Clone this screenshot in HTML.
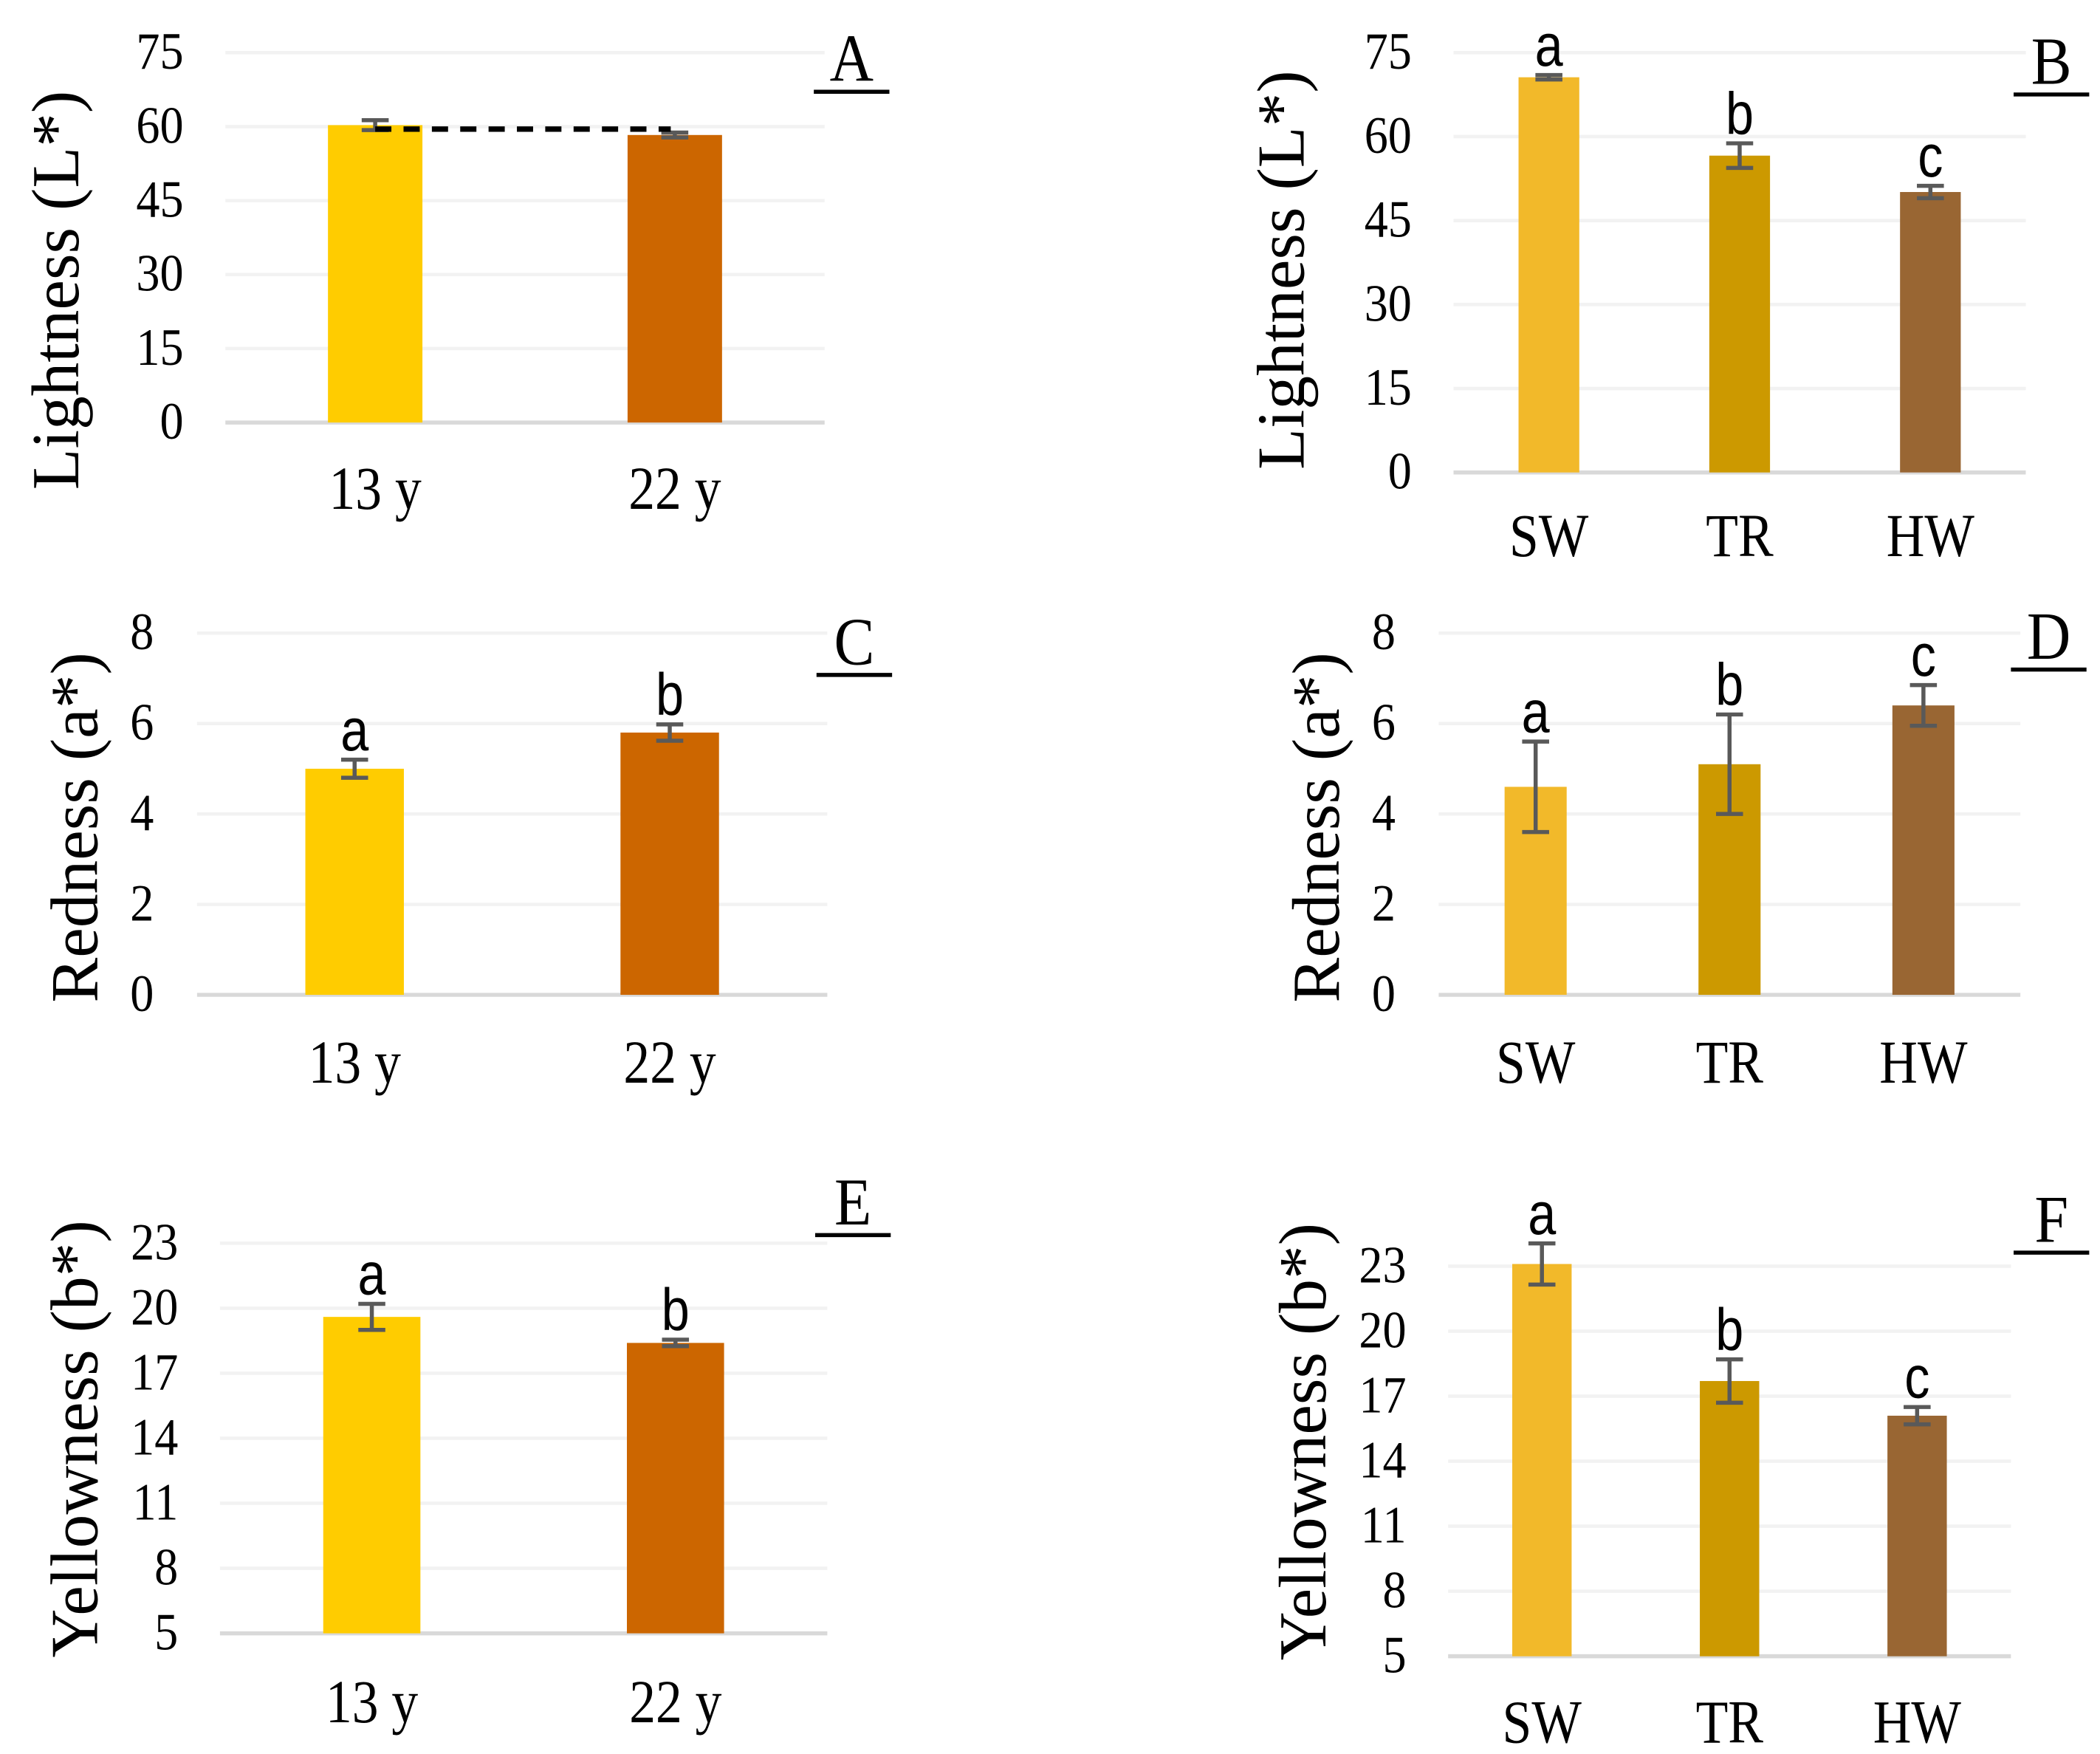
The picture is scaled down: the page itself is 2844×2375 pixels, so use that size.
<!DOCTYPE html>
<html><head><meta charset="utf-8"><style>
html,body{margin:0;padding:0;background:#fff;}
svg{display:block;}
text{font-family:"Liberation Serif",serif;fill:#000;}
.sans{font-family:"Liberation Sans",sans-serif;}
</style></head><body>
<svg id="fig" width="2844" height="2375" viewBox="0 0 1556 1299.4" xmlns="http://www.w3.org/2000/svg"></svg>
<script>
// Panel A
const catsA = ["13 y","22 y"];
const valsA = [60.3, 58.3];
const errsA = [1.0, 0.5];
const ticksA = [0,15,30,45,60,75];
// Panel B
const catsB = ["SW","TR","HW"];
const valsB = [70.6, 56.6, 50.1];
const errsB = [0.4, 2.2, 1.1];
const letB = ["a","b","c"];
const ticksB = [0,15,30,45,60,75];
// Panel C
const catsC = ["13 y","22 y"];
const valsC = [5.0, 5.8];
const errsC = [0.2, 0.18];
const letC = ["a","b"];
const ticksC = [0,2,4,6,8];
// Panel D
const catsD = ["SW","TR","HW"];
const valsD = [4.6, 5.1, 6.4];
const errsD = [1.0, 1.1, 0.45];
const letD = ["a","b","c"];
const ticksD = [0,2,4,6,8];
// Panel E
const catsE = ["13 y","22 y"];
const valsE = [19.6, 18.4];
const errsE = [0.6, 0.15];
const letE = ["a","b"];
const ticksE = [5,8,11,14,17,20,23];
// Panel F
const catsF = ["SW","TR","HW"];
const valsF = [23.1, 17.7, 16.1];
const errsF = [0.95, 1.0, 0.4];
const letF = ["a","b","c"];
const ticksF = [5,8,11,14,17,20,23];

const NS="http://www.w3.org/2000/svg";
const svg=document.getElementById('fig');
function mk(tag,attrs,parent){const e=document.createElementNS(NS,tag);for(const k in attrs)e.setAttribute(k,attrs[k]);(parent||svg).appendChild(e);return e;}
function txt(str,x,y,size,anchor,cls,parent,rot,sx){
  const g=mk('g',{transform:`translate(${x},${y})`+(rot?' rotate(-90)':'')+` scale(${sx||0.82},1)`},parent);
  const t=mk('text',{x:0,y:0,'font-size':size,'text-anchor':anchor||'middle'},g);
  if(cls)t.setAttribute('class',cls);
  t.textContent=str;return t;
}
const colors2=["#ffcc00","#cc6600"];
const colors3=["#f2b92a","#cc9900","#996633"];

function panel(p){
  const g=mk('g',{});
  
  
  const tmin=p.ticks[0],tmax=p.ticks[p.ticks.length-1];
  const y=v=>p.y0-(v-tmin)/(tmax-tmin)*(p.y0-p.yTop);
  const n=p.cats.length;
  const band=(p.x1-p.x0)/n;
  const xc=i=>p.x0+band*(i+0.5);
  p.ticks.forEach((t,i)=>{
    const l=mk('line',{x1:p.x0,x2:p.x1,y1:y(t),y2:y(t),stroke:i==0?'#d9d9d9':'#f2f2f2','stroke-width':i==0?3:2.5},g);
    
    
    const tl=txt(String(t),p.tickX,y(t)+12,39,'end',null,g,false,0.9);
    
    
  });
  p.cats.forEach((c,i)=>{
    const cx=xc(i);
    const r=mk('rect',{x:cx-p.bw/2,y:y(p.vals[i]),width:p.bw,height:y(tmin)-y(p.vals[i]),fill:p.colors[i]},g);
    
    
    const eg=mk('g',{stroke:'#595959','stroke-width':3},g);
    
    
    const hi=y(p.vals[i]+p.errs[i]),lo=y(p.vals[i]-p.errs[i]);
    mk('line',{x1:cx,x2:cx,y1:hi,y2:lo},eg);
    mk('line',{x1:cx-10,x2:cx+10,y1:hi,y2:hi},eg);
    mk('line',{x1:cx-10,x2:cx+10,y1:lo,y2:lo},eg);
    const cl=txt(c,cx,p.catY,45,'middle',null,g,false,0.87);
    
    
    if(p.lets){
      const ll=txt(p.lets[i],cx,hi-7,44,'middle','sans',g,false,0.85);
      
      
    }
  });
  const tt=txt(p.title,p.titleX,p.titleY,p.titleSize,'middle',null,g,true,p.titleSx);
  
  
  const pl=txt(p.id,p.labX,p.labY,50,'middle',null,g,false,0.9);
  
  
  const ul=mk('line',{x1:p.labX-28,x2:p.labX+28,y1:p.labY+8,y2:p.labY+8,stroke:'#000','stroke-width':3},g);
  
  
  return {y,xc};
}

const A=panel({id:'A',cats:catsA,vals:valsA,errs:errsA,ticks:ticksA,colors:colors2,x0:167,x1:611,yTop:39,y0:313,bw:70,tickX:136,catY:377,title:'Lightness  (L*)',titleSize:50,titleSx:1,titleX:58,titleY:215,labX:631,labY:60});
// dashed comparison line
const dl=mk('line',{x1:A.xc(0),x2:A.xc(1)-3,y1:A.y((valsA[0]+valsA[1])/2+0.2),y2:A.y((valsA[0]+valsA[1])/2+0.2),stroke:'#000','stroke-width':4,'stroke-dasharray':'12,9'});


panel({id:'B',cats:catsB,vals:valsB,errs:errsB,lets:letB,ticks:ticksB,colors:colors3,x0:1077,x1:1501,yTop:39,y0:350,bw:45,tickX:1046,catY:412,title:'Lightness  (L*)',titleSize:50,titleSx:1,titleX:966,titleY:200,labX:1520,labY:62});
panel({id:'C',cats:catsC,vals:valsC,errs:errsC,lets:letC,ticks:ticksC,colors:colors2,x0:146,x1:613,yTop:469,y0:737,bw:73,tickX:114,catY:802,title:'Redness (a*)',titleSize:50,titleSx:1,titleX:72,titleY:613,labX:633,labY:492});
panel({id:'D',cats:catsD,vals:valsD,errs:errsD,lets:letD,ticks:ticksD,colors:colors3,x0:1066,x1:1497,yTop:469,y0:737,bw:46,tickX:1034,catY:802,title:'Redness (a*)',titleSize:50,titleSx:1,titleX:992,titleY:613,labX:1518,labY:488});
panel({id:'E',cats:catsE,vals:valsE,errs:errsE,lets:letE,ticks:ticksE,colors:colors2,x0:163,x1:613,yTop:921,y0:1210,bw:72,tickX:132,catY:1276,title:'Yellowness (b*)',titleSize:50,titleSx:1,titleX:72,titleY:1066,labX:632,labY:907});
panel({id:'F',cats:catsF,vals:valsF,errs:errsF,lets:letF,ticks:ticksF,colors:colors3,x0:1073,x1:1490,yTop:938,y0:1227,bw:44,tickX:1042,catY:1291,title:'Yellowness (b*)',titleSize:50,titleSx:1,titleX:982,titleY:1068,labX:1520,labY:920});
</script>
</body></html>
